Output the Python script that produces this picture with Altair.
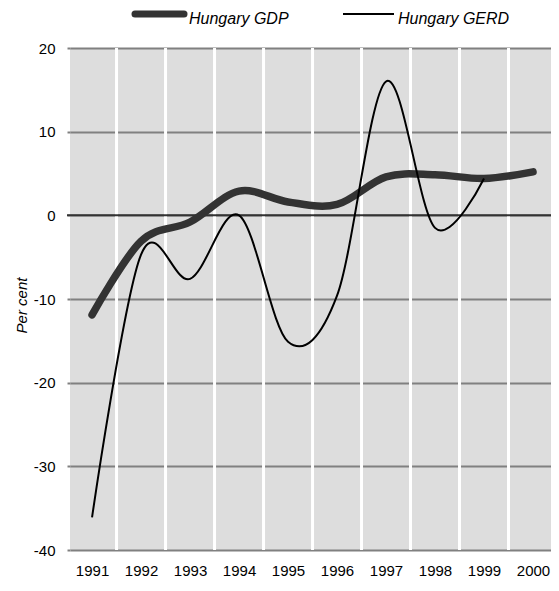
import altair as alt
import pandas as pd

years = [1991, 1992, 1993, 1994, 1995, 1996, 1997, 1998, 1999, 2000]
gdp = [-11.9, -3.1, -0.8, 2.9, 1.6, 1.3, 4.6, 4.85, 4.4, 5.2]
gerd_years = [1991, 1992, 1993, 1994, 1995, 1996, 1997, 1998, 1999]
gerd = [-36.1, -4.7, -7.6, 0.0, -15.1, -9.6, 16.0, -1.5, 4.4]
y_ticks = [-40, -30, -20, -10, 0, 10, 20]
separators = [1991.5, 1992.5, 1993.5, 1994.5, 1995.5, 1996.5, 1997.5, 1998.5, 1999.5]
series_names = ["Hungary GDP", "Hungary GERD"]

df_gdp = pd.DataFrame({"year": years, "value": gdp})
df_gerd = pd.DataFrame({"year": gerd_years, "value": gerd})
df_sep = pd.DataFrame({"year": separators})
df_zero = pd.DataFrame({"value": [0]})

FONT = "Liberation Sans"
W, H = 481, 502
xscale = alt.Scale(domain=[1990.55, 2000.367], nice=False, zero=False)
yscale = alt.Scale(domain=[-40, 20], nice=False, zero=False)

ax_x = alt.X("year:Q", scale=xscale, title=None,
             axis=alt.Axis(values=years, labelExpr="datum.value + ''", title=None,
                           grid=False, domain=False, ticks=False, labelPadding=13,
                           labelFontSize=15, labelFont=FONT, labelColor="#000",
                           labelFlush=False, labelOverlap=False))
ax_y = alt.Y("value:Q", scale=yscale, title="Per cent",
             axis=alt.Axis(values=y_ticks, labelExpr="datum.value + ''",
                           title="Per cent", grid=True,
                           gridColor="#808080", gridWidth=2, domain=False,
                           tickSize=3, tickColor="#808080", tickWidth=2,
                           labelPadding=12, labelFontSize=15, labelFont=FONT,
                           labelColor="#000", titleFont=FONT, titleFontSize=15,
                           titleFontStyle="italic", titleFontWeight="normal",
                           titleColor="#000", titlePadding=4, titleY=257))

px = alt.X("year:Q", scale=xscale, title=None)
py = alt.Y("value:Q", scale=yscale, title="Per cent")

axes = alt.Chart(df_gdp).mark_point(opacity=0).encode(x=ax_x, y=ax_y)

sep = alt.Chart(df_sep).mark_rule(color="white", strokeWidth=3).encode(x=px)

zero = alt.Chart(df_zero).mark_rule(color="#333333", strokeWidth=2).encode(
    y=py, x=alt.value(-3), x2=alt.value(W)
)

gdp_line = alt.Chart(df_gdp).mark_line(
    color="#333333", strokeWidth=7.5, interpolate="cardinal", tension=0,
    strokeCap="round", strokeJoin="round"
).encode(x=px, y=py)

gerd_line = alt.Chart(df_gerd).mark_line(
    color="#000000", strokeWidth=2, interpolate="cardinal", tension=0
).encode(x=px, y=py)

leg_gdp_line = alt.Chart(pd.DataFrame({"a": [0]})).mark_rule(
    color="#333333", strokeWidth=7, strokeCap="round").encode(
    x=alt.value(65), x2=alt.value(114), y=alt.value(-34))
leg_gerd_line = alt.Chart(pd.DataFrame({"a": [0]})).mark_rule(
    color="#000000", strokeWidth=2).encode(
    x=alt.value(273), x2=alt.value(324), y=alt.value(-34))
leg_gdp_text = alt.Chart(pd.DataFrame({"t": [series_names[0]]})).mark_text(
    font=FONT, fontSize=16, fontStyle="italic", align="left", baseline="alphabetic",
    color="#000").encode(text="t:N", x=alt.value(119), y=alt.value(-24))
leg_gerd_text = alt.Chart(pd.DataFrame({"t": [series_names[1]]})).mark_text(
    font=FONT, fontSize=16, fontStyle="italic", align="left", baseline="alphabetic",
    color="#000").encode(text="t:N", x=alt.value(328), y=alt.value(-24))

chart = alt.layer(
    axes, sep, zero, gdp_line, gerd_line,
    leg_gdp_line, leg_gerd_line, leg_gdp_text, leg_gerd_text
).properties(
    width=W, height=H,
    autosize=alt.AutoSizeParams(type="none"),
    padding={"left": 62, "top": 40, "right": 0, "bottom": 29},
    background="white"
).configure_view(fill="#DDDDDD", stroke=None)

chart.save("out.html", embed_options={"renderer": "svg", "actions": False})
